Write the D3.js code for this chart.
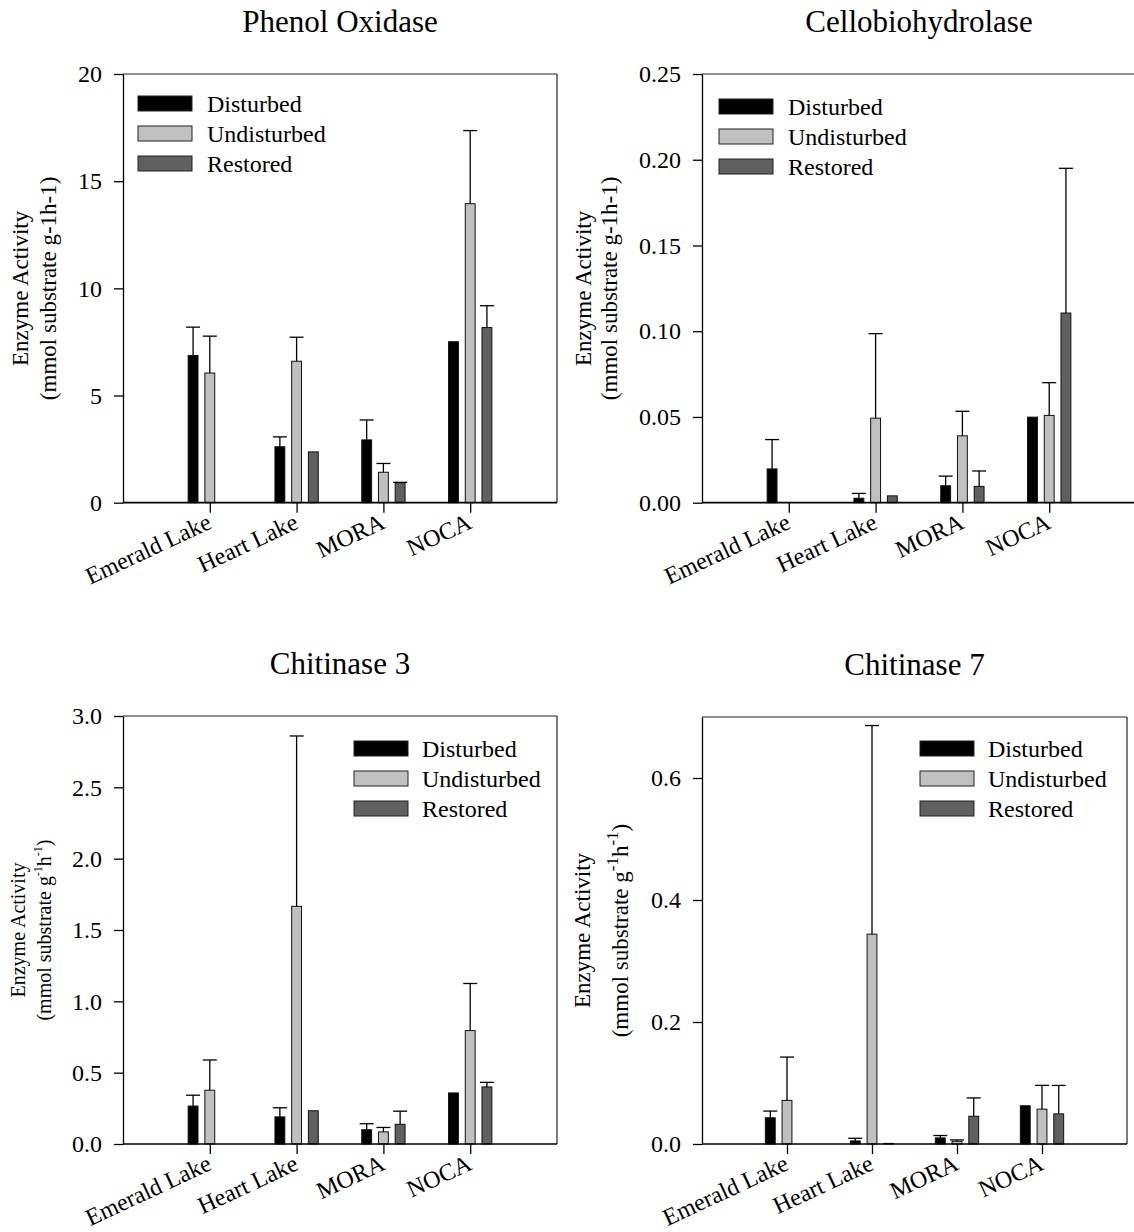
<!DOCTYPE html>
<html>
<head>
    <script src="https://d3js.org/d3.v7.min.js"></script>
    <style>
        body { margin: 0; background: #fff; }
        text { font-family: "Liberation Serif", "Times New Roman", serif; fill: #000; }
    </style>
</head>
<body>
    <script>
        // Categories and series
        const sites = ['Emerald Lake', 'Heart Lake', 'MORA', 'NOCA'];
        const treatments = ['Disturbed', 'Undisturbed', 'Restored'];
        const treatmentColors = ['#000000', '#c0c0c0', '#606060'];

        // Phenol Oxidase (mean, SE) - null = no bar / no error bar
        const phenolDisturbed = [6.87, 2.61, 2.93, 7.51];
        const phenolDisturbedSE = [1.32, 0.46, 0.93, null];
        const phenolUndisturbed = [6.05, 6.60, 1.42, 13.95];
        const phenolUndisturbedSE = [1.72, 1.12, 0.41, 3.41];
        const phenolRestored = [null, 2.37, 0.93, 8.17];
        const phenolRestoredSE = [null, null, 0.02, 1.02];
        const phenolTicks = [0, 5, 10, 15, 20];

        // Cellobiohydrolase
        const cellobioDisturbed = [0.0197, 0.0026, 0.0099, 0.0499];
        const cellobioDisturbedSE = [0.0171, 0.0028, 0.0056, null];
        const cellobioUndisturbed = [null, 0.0493, 0.0390, 0.0509];
        const cellobioUndisturbedSE = [null, 0.0493, 0.0143, 0.0191];
        const cellobioRestored = [null, 0.0040, 0.0095, 0.1106];
        const cellobioRestoredSE = [null, null, 0.0090, 0.0844];
        const cellobioTicks = [0, 0.05, 0.10, 0.15, 0.20, 0.25];

        // Chitinase 3
        const chit3Disturbed = [0.266, 0.190, 0.100, 0.358];
        const chit3DisturbedSE = [0.076, 0.064, 0.042, null];
        const chit3Undisturbed = [0.377, 1.666, 0.085, 0.795];
        const chit3UndisturbedSE = [0.212, 1.194, 0.031, 0.330];
        const chit3Restored = [null, 0.233, 0.138, 0.400];
        const chit3RestoredSE = [null, null, 0.092, 0.032];
        const chit3Ticks = [0, 0.5, 1.0, 1.5, 2.0, 2.5, 3.0];

        // Chitinase 7
        const chit7Disturbed = [0.043, 0.005, 0.010, 0.0627];
        const chit7DisturbedSE = [0.011, 0.0044, 0.0039, null];
        const chit7Undisturbed = [0.0715, 0.344, 0.0044, 0.0571];
        const chit7UndisturbedSE = [0.071, 0.342, 0.0023, 0.039];
        const chit7Restored = [null, 0.001, 0.0455, 0.0494];
        const chit7RestoredSE = [null, null, 0.030, 0.0466];
        const chit7Ticks = [0, 0.2, 0.4, 0.6];

        const svg = d3.select('body')
            .append('svg')
            .attr('width', 1134)
            .attr('height', 1232);

        const panels = [
            {
                title: 'Phenol Oxidase', box: { x0: 123, x1: 557, y0: 74, y1: 502.7 },
                yMax: 20, ticks: phenolTicks, fmt: d3.format('d'),
                means: [phenolDisturbed, phenolUndisturbed, phenolRestored],
                ses: [phenolDisturbedSE, phenolUndisturbedSE, phenolRestoredSE],
                legend: { x: 138, y: 96, tx: 207 },
                ylab: { x1: 28, x2: 56, size: 23, sup: false }
            },
            {
                title: 'Cellobiohydrolase', box: { x0: 702, x1: 1136, y0: 74, y1: 502.7 },
                yMax: 0.25, ticks: cellobioTicks, fmt: d3.format('.2f'),
                means: [cellobioDisturbed, cellobioUndisturbed, cellobioRestored],
                ses: [cellobioDisturbedSE, cellobioUndisturbedSE, cellobioRestoredSE],
                legend: { x: 719, y: 99, tx: 788 },
                ylab: { x1: 591, x2: 617, size: 23, sup: false }
            },
            {
                title: 'Chitinase 3', box: { x0: 123, x1: 557, y0: 716, y1: 1144 },
                yMax: 3.0, ticks: chit3Ticks, fmt: d3.format('.1f'),
                means: [chit3Disturbed, chit3Undisturbed, chit3Restored],
                ses: [chit3DisturbedSE, chit3UndisturbedSE, chit3RestoredSE],
                legend: { x: 354, y: 741, tx: 422 },
                ylab: { x1: 25, x2: 51, size: 20, sup: true, supSize: 12 }
            },
            {
                title: 'Chitinase 7', box: { x0: 702, x1: 1127, y0: 717, y1: 1144 },
                yMax: 0.7, ticks: chit7Ticks, fmt: d3.format('.1f'),
                means: [chit7Disturbed, chit7Undisturbed, chit7Restored],
                ses: [chit7DisturbedSE, chit7UndisturbedSE, chit7RestoredSE],
                legend: { x: 920, y: 741, tx: 988 },
                ylab: { x1: 590, x2: 628, size: 23, sup: true, supSize: 17 }
            }
        ];

        panels.forEach(drawPanel);

        function drawPanel(p) {
            const b = p.box;
            const g = svg.append('g');

            const x = d3.scalePoint()
                .domain(sites)
                .range([b.x0, b.x1])
                .padding(1);

            const sub = d3.scaleBand()
                .domain(treatments)
                .range([-25, 25])
                .paddingInner(0.41)
                .paddingOuter(0.2);

            const y = d3.scaleLinear()
                .domain([0, p.yMax])
                .range([b.y1, b.y0]);

            // bars
            treatments.forEach((t, j) => {
                sites.forEach((s, i) => {
                    const v = p.means[j][i];
                    if (v == null) return;
                    g.append('rect')
                        .attr('x', x(s) + sub(t))
                        .attr('y', y(v))
                        .attr('width', sub.bandwidth())
                        .attr('height', y(0) - y(v))
                        .attr('fill', treatmentColors[j])
                        .attr('stroke', '#111')
                        .attr('stroke-width', 1);
                });
            });

            // error bars (upper only)
            treatments.forEach((t, j) => {
                sites.forEach((s, i) => {
                    const v = p.means[j][i];
                    const e = p.ses[j][i];
                    if (v == null || e == null) return;
                    const cx = x(s) + sub(t) + sub.bandwidth() / 2;
                    g.append('line')
                        .attr('x1', cx).attr('x2', cx)
                        .attr('y1', y(v)).attr('y2', y(v + e))
                        .attr('stroke', '#000').attr('stroke-width', 1.3);
                    g.append('line')
                        .attr('x1', cx - 7).attr('x2', cx + 7)
                        .attr('y1', y(v + e)).attr('y2', y(v + e))
                        .attr('stroke', '#000').attr('stroke-width', 1.3);
                });
            });

            // top and right frame
            g.append('line')
                .attr('x1', b.x0).attr('x2', b.x1)
                .attr('y1', b.y0).attr('y2', b.y0)
                .attr('stroke', '#222').attr('stroke-width', 1.2);
            g.append('line')
                .attr('x1', b.x1).attr('x2', b.x1)
                .attr('y1', b.y0).attr('y2', b.y1)
                .attr('stroke', '#222').attr('stroke-width', 1.2);

            // y axis
            const yAxis = g.append('g')
                .attr('transform', `translate(${b.x0},0)`)
                .call(d3.axisLeft(y)
                    .tickValues(p.ticks)
                    .tickFormat(p.fmt)
                    .tickSize(9)
                    .tickSizeOuter(0)
                    .tickPadding(12));
            yAxis.select('.domain').attr('stroke', '#000').attr('stroke-width', 1.3);
            yAxis.selectAll('.tick line').attr('stroke', '#000').attr('stroke-width', 1.3);
            yAxis.selectAll('text')
                .style('font-family', '"Liberation Serif", "Times New Roman", serif')
                .style('font-size', '24px')
                .attr('fill', '#000');

            // x axis
            const xAxis = g.append('g')
                .attr('transform', `translate(0,${b.y1})`)
                .call(d3.axisBottom(x)
                    .tickSize(10)
                    .tickSizeOuter(0)
                    .tickPadding(0));
            xAxis.select('.domain')
                .attr('d', `M${b.x0},0H${b.x1}`)
                .attr('stroke', '#000').attr('stroke-width', 1.7);
            xAxis.selectAll('.tick line').attr('stroke', '#000').attr('stroke-width', 1.3);
            xAxis.selectAll('text')
                .attr('x', 0).attr('y', 0).attr('dy', 0)
                .attr('transform', 'translate(2.5,25) rotate(-25)')
                .style('text-anchor', 'end')
                .style('font-family', '"Liberation Serif", "Times New Roman", serif')
                .style('font-size', '24px')
                .attr('fill', '#000');

            // title
            g.append('text')
                .attr('x', (b.x0 + b.x1) / 2)
                .attr('y', b.y0 - 42)
                .attr('text-anchor', 'middle')
                .style('font-size', '31px')
                .text(p.title);

            // legend
            treatments.forEach((t, j) => {
                const ly = p.legend.y + j * 30;
                g.append('rect')
                    .attr('x', p.legend.x).attr('y', ly)
                    .attr('width', 54).attr('height', 15)
                    .attr('fill', treatmentColors[j])
                    .attr('stroke', '#222').attr('stroke-width', 1);
                g.append('text')
                    .attr('x', p.legend.tx)
                    .attr('y', ly + 15.5)
                    .style('font-size', '24px')
                    .text(t);
            });

            // y axis label
            const yc = (b.y0 + b.y1) / 2;
            const l = p.ylab;
            g.append('text')
                .attr('transform', `translate(${l.x1},${yc}) rotate(-90)`)
                .attr('text-anchor', 'middle')
                .style('font-size', l.size + 'px')
                .text('Enzyme Activity');

            const lab2 = g.append('text')
                .attr('transform', `translate(${l.x2},${yc}) rotate(-90)`)
                .attr('text-anchor', 'middle')
                .style('font-size', l.size + 'px');
            if (!l.sup) {
                lab2.text('(mmol substrate g-1h-1)');
            } else {
                const up = -l.size * 0.45;
                lab2.append('tspan').text('(mmol substrate g');
                lab2.append('tspan').attr('dy', up).style('font-size', l.supSize + 'px').text('-1');
                lab2.append('tspan').attr('dy', -up).text('h');
                lab2.append('tspan').attr('dy', up).style('font-size', l.supSize + 'px').text('-1');
                lab2.append('tspan').attr('dy', -up).text(')');
            }
        }
    </script>
</body>
</html>
